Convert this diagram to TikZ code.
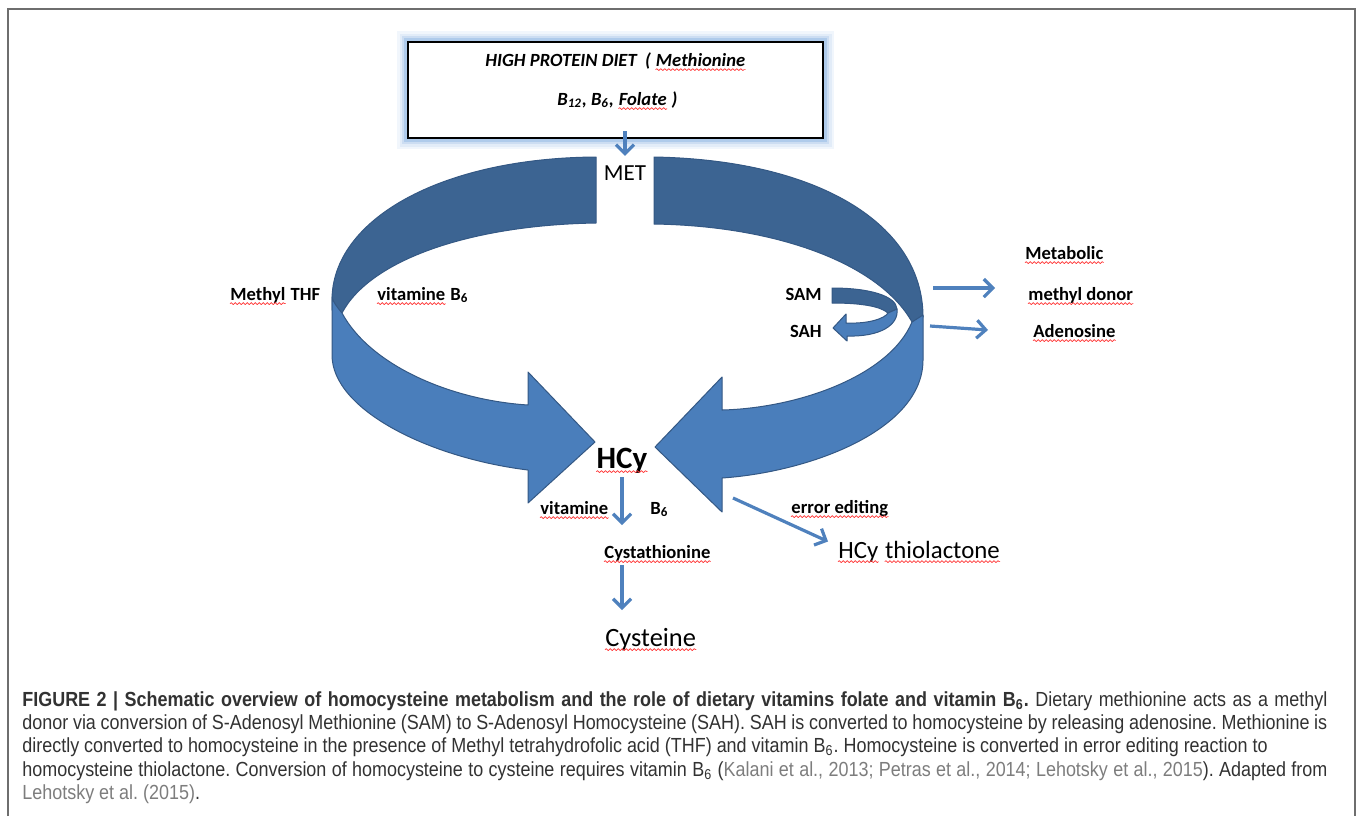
\documentclass[tikz,border=0pt]{standalone}
\usepackage{fontspec}
\setmainfont{Carlito}
\newfontfamily\capfont[FakeStretch=0.88]{Liberation Sans}
\usetikzlibrary{positioning,arrows.meta,decorations.pathmorphing}
\definecolor{backblue}{RGB}{60,100,146}
\definecolor{frontblue}{RGB}{74,126,187}
\definecolor{bandedge}{RGB}{52,88,132}
\definecolor{flowblue}{RGB}{79,129,189}
\definecolor{glowblue}{RGB}{141,180,226}
\definecolor{captext}{RGB}{50,50,50}
\definecolor{capcite}{RGB}{125,125,125}
\definecolor{framegray}{RGB}{110,110,110}
\tikzset{
    % labels of the scheme (Calibri bold)
    lbl/.style={inner sep=0pt, font=\fontsize{9.3}{11}\selectfont\bfseries},
    boxtxt/.style={lbl, font=\fontsize{9.3}{11}\selectfont\bfseries\itshape},
    metl/.style={inner sep=0pt, font=\fontsize{11.5}{13}\selectfont},
    hcyl/.style={inner sep=0pt, font=\fontsize{15.5}{18}\selectfont\bfseries},
    bigl/.style={inner sep=0pt, font=\fontsize{12.4}{15}\selectfont},
    % the diet box with its glow
    dietbox/.style={draw=black, line width=1.2pt, fill=white, inner sep=0pt,
                    minimum width=207.5pt, minimum height=48pt,
                    preaction={draw=glowblue!12, line width=11pt},
                    preaction={draw=glowblue!25, line width=8.5pt},
                    preaction={draw=glowblue!45, line width=6pt},
                    preaction={draw=glowblue!70, line width=3.8pt}},
    % ribbons of the cycle
    backband/.style={fill=backblue, draw=bandedge, line width=0.5pt, line join=round},
    frontband/.style={fill=frontblue, draw=bandedge, line width=0.5pt, line join=round},
    flow/.style={draw=flowblue, line width=1.6pt,
                 -{Straight Barb[length=4.5pt,width=9pt]}},
    % spell check marks
    spell/.style={draw=red!80, line width=0.35pt, decorate,
                  decoration={snake, amplitude=0.45pt, segment length=2pt}},
    capt/.style={inner sep=0pt, text width=652.5pt, align=justify, text=captext,
                 font=\capfont\fontsize{10.2}{11.65}\selectfont}
}
\begin{document}
\begin{tikzpicture}[x=0.5pt, y=-0.5pt]
    \useasboundingbox (0,0) rectangle (1358,816);
    \draw[framegray, line width=0.8pt] (8,816) -- (8,9) -- (1355,9) -- (1355,816);

    % diet
    \node[dietbox] (diet) at (615.5,90) {};
    \node[boxtxt, anchor=base west] (dietA) at (485,66) {HIGH PROTEIN DIET~~(};
    \node[boxtxt, right=2.1pt of dietA.base east, anchor=base west] (methio) {Methionine};
    \node[boxtxt, anchor=base west] (dietB) at (557,105) {B\textsubscript{12}, B\textsubscript{6},};
    \node[boxtxt, right=2.1pt of dietB.base east, anchor=base west] (folate) {Folate};
    \node[boxtxt, right=2.1pt of folate.base east, anchor=base west] (dietC) {)};

    % left half of the cycle
    \fill[backband] (596,157) -- (596,223) .. controls (470,225) and (370,260) .. (342,313)
        -- (332,310) -- (332,300) .. controls (332,220) and (440,158) .. (596,157) -- cycle;
    \fill[frontband] (332,297) -- (332,355) .. controls (332,410) and (430,458) .. (528,470)
        -- (528,503) -- (595,442) -- (528,372) -- (528,405)
        .. controls (450,400) and (370,365) .. (342,313)
        .. controls (337,307) and (333,302) .. (332,297) -- cycle;
    % right half of the cycle
    \fill[backband] (654,157) .. controls (820,160) and (923,225) .. (923,317)
        -- (912,322) .. controls (880,265) and (780,226) .. (654,224) -- cycle;
    \fill[frontband] (923,315) -- (923,360) .. controls (923,430) and (810,472) .. (722,478)
        -- (722,512) -- (655,447) -- (722,377) -- (722,410)
        .. controls (800,408) and (890,375) .. (912,322) -- cycle;
    % SAM -> SAH
    \fill[backband] (832,288) .. controls (870,288) and (896,296) .. (897,309)
        -- (888,313) .. controls (880,306) and (860,303) .. (832,303) -- cycle;
    \fill[frontband] (897,309) .. controls (899,325) and (880,337) .. (847,336)
        -- (847,341) -- (833,328) -- (846,314) -- (846,323)
        .. controls (870,324) and (885,318) .. (888,313) -- cycle;

    \node[metl, anchor=base] (met) at (625,180) {MET};
    \node[hcyl, anchor=base] (hcy) at (622,468) {HCy};

    \node[lbl, anchor=base west] (methyl) at (230,300) {Methyl};
    \node[lbl, right=2.2pt of methyl.base east, anchor=base west] (thf) {THF};
    \node[lbl, anchor=base west] (vitl) at (377,300) {vitamine};
    \node[lbl, right=2.2pt of vitl.base east, anchor=base west] (b6l) {B\textsubscript{6}};

    \node[lbl, anchor=base east] (sam) at (822,300) {SAM};
    \node[lbl, anchor=base east] (sah) at (822,337) {SAH};
    \node[lbl, anchor=base west] (metab) at (1025,259) {Metabolic};
    \node[lbl, anchor=base west] (donor) at (1028,300) {methyl donor};
    \node[lbl, anchor=base west] (adeno) at (1033,337) {Adenosine};

    \node[lbl, anchor=base west] (vitd) at (540,514) {vitamine};
    \node[lbl, anchor=base west] (b6d) at (650,514) {B\textsubscript{6}};
    \node[lbl, anchor=base west] (cysta) at (604,558) {Cystathionine};
    \node[bigl, anchor=base west, font=\fontsize{13.2}{15}\selectfont] (cyst) at (605,646) {Cysteine};
    \node[lbl, anchor=base west] (errl) at (791,513) {error editing};
    \node[bigl, anchor=base west] (hcyt) at (838,558) {HCy};
    \node[bigl, right=3pt of hcyt.base east, anchor=base west] (thio) {thiolactone};

    % arrows
    \coordinate (donortail) at (933,288);
    \coordinate (adentail) at (930,326);
    \coordinate (errtail) at (733,498);
    \draw[flow, shorten <=-4pt, shorten >=4.5pt] (met.north |- diet.south) -- (met.north);
    \draw[flow, shorten <=4.5pt, shorten >=16.5pt] (hcy.base) -- (hcy.base |- cysta.base);
    \draw[flow, shorten <=3.5pt, shorten >=18pt] (hcy.base |- cysta.base) -- (hcy.base |- cyst.base);
    \draw[flow] (errtail) -- ([xshift=-5pt]hcyt.north west);
    \draw[flow, shorten >=16.5pt] (donortail) -- (donortail -| donor.west);
    \draw[flow] (adentail) -- ([shift={(-22.5pt,3.5pt)}]adeno.base west);

    \foreach \w in {methio,folate,methyl,vitl,metab,donor,adeno,hcy,vitd,cysta,cyst,errl,hcyt,thio}
        \draw[spell] ([yshift=-1.8pt]\w.base west) -- ([yshift=-1.8pt]\w.base east);

    % caption
    \node[capt, anchor=north west] (caption) at (22,691) {\hyphenpenalty=10000 \frenchspacing
        {\bfseries FIGURE 2 | Schematic overview of homocysteine metabolism and the role of
        dietary vitamins folate and vitamin B\textsubscript{6}.} Dietary methionine acts as a
        methyl\linebreak donor via conversion of S-Adenosyl Methionine (SAM) to S-Adenosyl
        Homocysteine (SAH). SAH is converted to homocysteine by releasing adenosine. Methionine
        is\linebreak directly converted to homocysteine in the presence of Methyl
        tetrahydrofolic acid (THF) and vitamin B\textsubscript{6}. Homocysteine is converted in
        error editing reaction to\newline homocysteine thiolactone. Conversion of homocysteine
        to cysteine requires vitamin B\textsubscript{6} ({\color{capcite}Kalani et al., 2013;
        Petras et al., 2014; Lehotsky et al., 2015}). Adapted from\linebreak
        {\color{capcite}Lehotsky et al. (2015)}.};
\end{tikzpicture}
\end{document}
